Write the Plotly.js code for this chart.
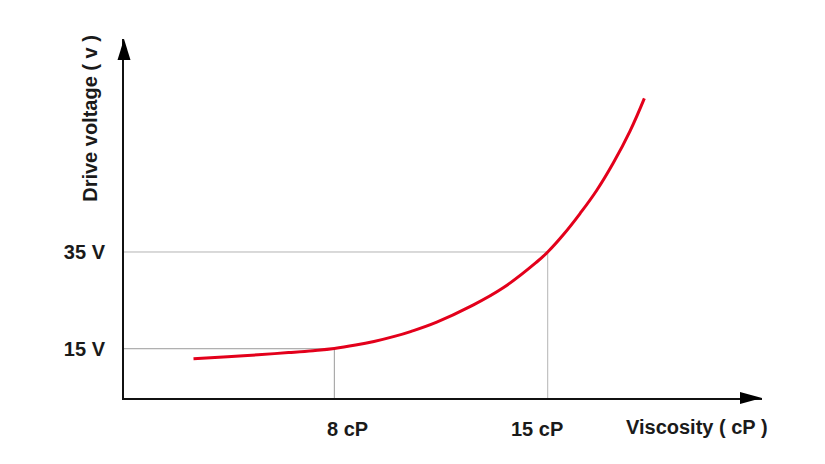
<!DOCTYPE html>
<html>
<head>
<meta charset="utf-8">
<script src="https://cdn.plot.ly/plotly-3.0.1.min.js"></script>
<style>html,body{margin:0;padding:0;background:#fff;}#chart{width:825px;height:464px;}</style>
</head>
<body>
<div id="chart"></div>
<script>
// Curve: viscosity (cP) vs drive voltage (V)
const viscosity = [3.38, 4.5, 5.5, 6.5, 7.3, 8.0, 8.7, 9.3, 10.0, 10.5, 11.36, 12.45, 13.54, 14.64, 15.0, 15.51, 16.06, 16.61, 17.15, 17.70, 18.17];
const voltage   = [12.93, 13.35, 13.75, 14.2, 14.6, 15.05, 15.75, 16.5, 17.6, 18.55, 20.5, 23.7, 27.6, 32.93, 35.0, 38.56, 42.95, 47.77, 53.4, 60.0, 66.76];

// Reference points (marked on axes)
const refViscosity = [8, 15];
const refVoltage = [15, 35];
const xTickText = ["8 cP", "15 cP"];
const yTickText = ["15 V", "35 V"];

const xTitle = "Viscosity ( cP )";
const yTitle = "Drive voltage ( v )";

const xRange = [1.10, 22.03];
const yRange = [4.81, 79.04];

const refColors = ["#9a9a9a", "#b4b4b4"];
const xLabelShift = [13, -11];

const traces = [];
refViscosity.forEach((rx, i) => {
  const ry = refVoltage[i];
  traces.push({
    type: "scatter", mode: "lines",
    x: [xRange[0], rx, rx], y: [ry, ry, yRange[0]],
    line: {color: refColors[i], width: 1},
    hoverinfo: "skip", showlegend: false
  });
});
traces.push({
  type: "scatter", mode: "lines",
  x: viscosity, y: voltage,
  line: {color: "#e3001b", width: 3, shape: "spline", smoothing: 1.2},
  showlegend: false
});

const font = {family: "Liberation Sans, Arial, sans-serif", size: 20, color: "#1a1a1a"};
const bold = s => "<b>" + s + "</b>";

const annotations = [];
refViscosity.forEach((rx, i) => {
  annotations.push({
    xref: "x", yref: "paper", x: rx, y: 0, yanchor: "middle", xanchor: "center",
    yshift: -31, xshift: xLabelShift[i], showarrow: false,
    text: bold(xTickText[i]), font: font
  });
});
annotations.push({
  xref: "paper", yref: "paper", x: 0.898, y: 0, yanchor: "middle", xanchor: "center",
  yshift: -29, showarrow: false, text: bold(xTitle), font: font
});
annotations.push({
  xref: "paper", yref: "paper", x: 0, y: 0.7777, xanchor: "center", yanchor: "middle",
  xshift: -34, textangle: -90, showarrow: false, text: bold(yTitle), font: font
});

const layout = {
  width: 825, height: 464,
  margin: {l: 124, r: 63, t: 39, b: 66},
  paper_bgcolor: "#fff", plot_bgcolor: "#fff",
  showlegend: false,
  xaxis: {
    range: xRange, showgrid: false, zeroline: false,
    showline: true, linecolor: "#111", linewidth: 2,
    showticklabels: false, ticks: ""
  },
  yaxis: {
    range: yRange, showgrid: false, zeroline: false,
    showline: true, linecolor: "#111", linewidth: 2,
    tickvals: refVoltage, ticktext: yTickText.map(bold), ticks: "",
    ticklabelstandoff: 13,
    tickfont: font
  },
  annotations: annotations,
  shapes: [
    {type: "path", xref: "paper", yref: "paper", xsizemode: "pixel", ysizemode: "pixel",
     xanchor: 1, yanchor: 0, path: "M0,0 L-22,6 L-22,-6 Z",
     fillcolor: "#000", line: {width: 0}},
    {type: "path", xref: "paper", yref: "paper", xsizemode: "pixel", ysizemode: "pixel",
     xanchor: 0, yanchor: 1, path: "M0,0 L-6.5,-21 L6.5,-21 Z",
     fillcolor: "#000", line: {width: 0}}
  ]
};

Plotly.newPlot("chart", traces, layout, {displayModeBar: false, staticPlot: true});
</script>
</body>
</html>
